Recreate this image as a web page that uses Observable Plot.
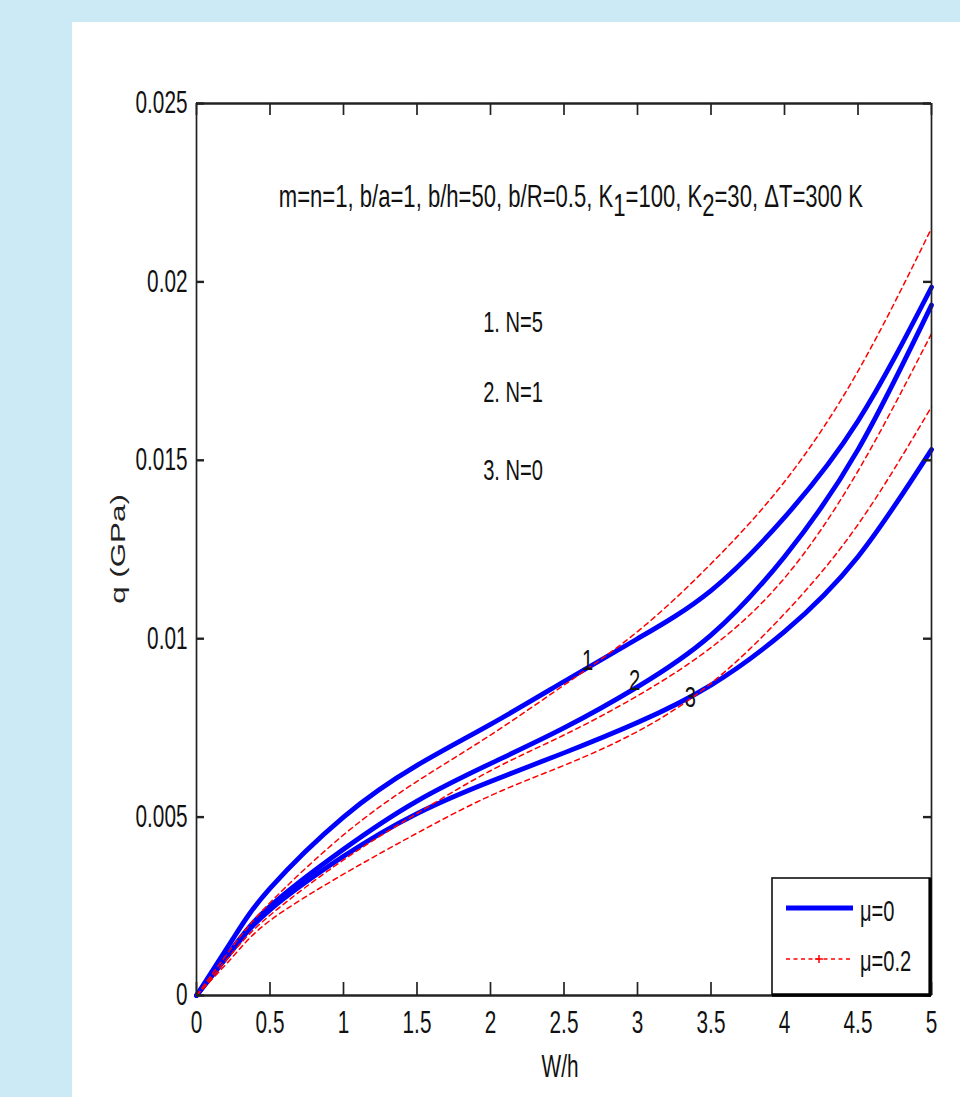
<!DOCTYPE html>
<html>
<head>
<meta charset="utf-8">
<script src="https://cdn.jsdelivr.net/npm/d3@7"></script>
<script src="https://cdn.jsdelivr.net/npm/@observablehq/plot@0.6"></script>
<style>
html,body{margin:0;padding:0;width:960px;height:1097px;overflow:hidden;background:#cce9f6;}
#panel{position:absolute;left:72px;top:22px;width:888px;height:1075px;background:#fff;}
#legend{position:absolute;left:760px;top:868px;}
</style>
</head>
<body>
<div id="panel"></div>
<div id="legend"></div>
<script>
// ---------- data ----------
const xTicks = [0, 0.5, 1, 1.5, 2, 2.5, 3, 3.5, 4, 4.5, 5];
const yTicks = [0, 0.005, 0.01, 0.015, 0.02, 0.025];
const wh = [0, 0.25, 0.5, 1, 1.5, 2, 2.5, 3, 3.5, 4, 4.5, 5];

// q (GPa), mu = 0 (solid blue)
const q_mu0_N5 = [0, 0.0016, 0.0030, 0.0050, 0.00645, 0.0076, 0.0088, 0.0100, 0.01135, 0.0134, 0.0161, 0.01985];
const q_mu0_N1 = [0, 0.00135, 0.0025, 0.0041, 0.00545, 0.0065, 0.0075, 0.00865, 0.0101, 0.0123, 0.0153, 0.01935];
const q_mu0_N0 = [0, 0.0013, 0.0024, 0.0039, 0.0051, 0.0060, 0.0068, 0.00765, 0.0087, 0.0102, 0.0123, 0.0153];
// q (GPa), mu = 0.2 (dashed red)
const q_mu02_N5 = [0, 0.0014, 0.0026, 0.0045, 0.0060, 0.0073, 0.0087, 0.0102, 0.0121, 0.0144, 0.0175, 0.0215];
const q_mu02_N1 = [0, 0.00122, 0.00225, 0.0038, 0.0051, 0.0063, 0.0073, 0.0084, 0.00975, 0.0117, 0.0147, 0.01855];
const q_mu02_N0 = [0, 0.0011, 0.0021, 0.0034, 0.00455, 0.0056, 0.00645, 0.0074, 0.00875, 0.0107, 0.0132, 0.0165];

const legendLabels = ["μ=0", "μ=0.2"];
const curveNames = ["1", "2", "3"];
const curveNameX = [2.66, 2.98, 3.36];
const curveNameY = [0.00939, 0.00883, 0.00835];
const caseLabels = ["1. N=5", "2. N=1", "3. N=0"];
const caseLabelY = [0.01886, 0.0169, 0.01471];
const caseLabelX = 1.95;
const paramText = "m=n=1, b/a=1, b/h=50, b/R=0.5, K_1=100, K_2=30, ΔT=300 K";
const paramX = 0.56, paramY = 0.02237;
const xLabel = "W/h";
const yLabel = "q (GPa)";

// ---------- build table ----------
const series = [
  {mu: legendLabels[0], N: 5, q: q_mu0_N5},
  {mu: legendLabels[0], N: 1, q: q_mu0_N1},
  {mu: legendLabels[0], N: 0, q: q_mu0_N0},
  {mu: legendLabels[1], N: 5, q: q_mu02_N5},
  {mu: legendLabels[1], N: 1, q: q_mu02_N1},
  {mu: legendLabels[1], N: 0, q: q_mu02_N0}
];
const rows = series.flatMap(s => wh.map((w, i) => ({w, q: s.q[i], mu: s.mu, key: s.mu + "|" + s.N})));

const FONT = '"Liberation Sans", Arial, Helvetica, sans-serif';
const K = 0.67;          // horizontal squeeze of text (figure is vertically stretched)
const innerW = 888 - 124 - 29, innerH = 1075 - 81 - 102;

const chart = Plot.plot({
  width: 888, height: 1075,
  marginLeft: 124, marginTop: 81, marginRight: 29, marginBottom: 102,
  style: {fontFamily: FONT, fontSize: "31px", color: "#111", background: "#fff", overflow: "visible"},
  x: {domain: [0, 5], label: null},
  y: {domain: [0, 0.025], label: null},
  marks: [
    Plot.line(rows.filter(d => d.mu === legendLabels[0]), {x: "w", y: "q", z: "key", stroke: "#0000ff", strokeWidth: 4.8, curve: "natural"}),
    Plot.line(rows.filter(d => d.mu === legendLabels[1]), {x: "w", y: "q", z: "key", stroke: "#ff0000", strokeWidth: 1.5, strokeDasharray: "5,4", curve: "natural"}),
    // frame
    Plot.ruleY([0, 0.025], {stroke: "#222", strokeWidth: 2.4}),
    Plot.ruleX([0, 5], {stroke: "#222", strokeWidth: 1.7}),
    // inward ticks
    Plot.tickX(xTicks, {x: d => d, insetTop: innerH - 13, stroke: "#222", strokeWidth: 1.7}),
    Plot.tickX(xTicks, {x: d => d, insetBottom: innerH - 12, stroke: "#222", strokeWidth: 1.7}),
    Plot.tickY(yTicks, {y: d => d, insetRight: innerW - 8, stroke: "#222", strokeWidth: 2.4}),
    Plot.tickY(yTicks, {y: d => d, insetLeft: innerW - 8, stroke: "#222", strokeWidth: 2.4}),
    // tick labels
    Plot.axisX({ticks: xTicks, tickSize: 0, tickPadding: 15, tickFormat: d => String(d), fontSize: 31, label: null}),
    Plot.axisY({ticks: yTicks, tickSize: 0, tickPadding: 9, tickFormat: d => String(d), fontSize: 31, label: null}),
    // axis titles
    Plot.text([xLabel], {frameAnchor: "bottom", dy: 81, dx: -4, text: d => d, fontSize: 31}),
    Plot.text([yLabel], {frameAnchor: "left", dx: -78, rotate: -90, text: d => d, fontSize: 21, fill: "#222"}),
    // annotations
    Plot.text([paramText], {x: paramX, y: paramY, text: d => d, textAnchor: "start", fontSize: 31}),
    Plot.text(caseLabels, {x: caseLabelX, y: (d, i) => caseLabelY[i], text: d => d, textAnchor: "start", fontSize: 30}),
    Plot.text(curveNames, {x: (d, i) => curveNameX[i], y: (d, i) => curveNameY[i], text: d => d, fontSize: 30})
  ]
});
document.getElementById("panel").appendChild(chart);

// ---------- legend (inside the axes box, bottom-right) ----------
const lg = d3.select("#legend").append("svg").attr("width", 200).attr("height", 135)
  .style("font-family", FONT).style("overflow", "visible");
lg.append("rect").attr("x", 12).attr("y", 10).attr("width", 158).attr("height", 117)
  .attr("fill", "#fff").attr("stroke", "#111").attr("stroke-width", 1.6);
lg.append("line").attr("x1", 170).attr("x2", 170).attr("y1", 10).attr("y2", 128).attr("stroke", "#000").attr("stroke-width", 3.2);
lg.append("line").attr("x1", 12).attr("x2", 171).attr("y1", 127).attr("y2", 127).attr("stroke", "#000").attr("stroke-width", 3.6);
lg.append("line").attr("x1", 26).attr("x2", 93).attr("y1", 40).attr("y2", 40).attr("stroke", "#0000ff").attr("stroke-width", 4.8);
lg.append("line").attr("x1", 26).attr("x2", 93).attr("y1", 91).attr("y2", 91).attr("stroke", "#ff0000").attr("stroke-width", 1.5).attr("stroke-dasharray", "4,3.5");
lg.append("path").attr("d", "M55,91H63M59,87V95").attr("stroke", "#ff0000").attr("stroke-width", 1.5);
lg.append("text").attr("x", 100).attr("y", 53).attr("font-size", 30).attr("fill", "#111").text(legendLabels[0]);
lg.append("text").attr("x", 100).attr("y", 103).attr("font-size", 30).attr("fill", "#111").text(legendLabels[1]);

// ---------- subscripts in parameter line ----------
let paramNode = null;
document.querySelectorAll("#panel text").forEach(t => {
  if (t.textContent === paramText) {
    paramNode = t;
    const parts = paramText.split(/_(\d)/);
    t.textContent = "";
    parts.forEach((p, i) => {
      const ts = document.createElementNS("http://www.w3.org/2000/svg", "tspan");
      ts.textContent = p;
      if (i % 2 === 1) ts.setAttribute("dy", "9");
      else if (i > 0) ts.setAttribute("dy", "-9");
      t.appendChild(ts);
    });
  }
});

// ---------- squeeze text horizontally, stretch the rotated y label ----------
document.querySelectorAll("#panel text, #legend text").forEach(t => {
  const L = t.getComputedTextLength();
  if (!L) return;
  let f = K;
  if (t.textContent === yLabel) f = 1 / K;
  else if (t === paramNode) f = 0.712;
  t.setAttribute("textLength", (L * f).toFixed(2));
  t.setAttribute("lengthAdjust", "spacingAndGlyphs");
  if (t.textContent === yLabel) {
    // re-centre the stretched, rotated label on the frame's vertical middle
    const r = t.getBoundingClientRect();
    const target = 22 + 81 + innerH / 2;
    const cy = r.top + r.height / 2;
    const x0 = parseFloat(t.getAttribute("x") || 0);
    t.setAttribute("x", (x0 + (cy - target)).toFixed(2));
  }
});
</script>
</body>
</html>
